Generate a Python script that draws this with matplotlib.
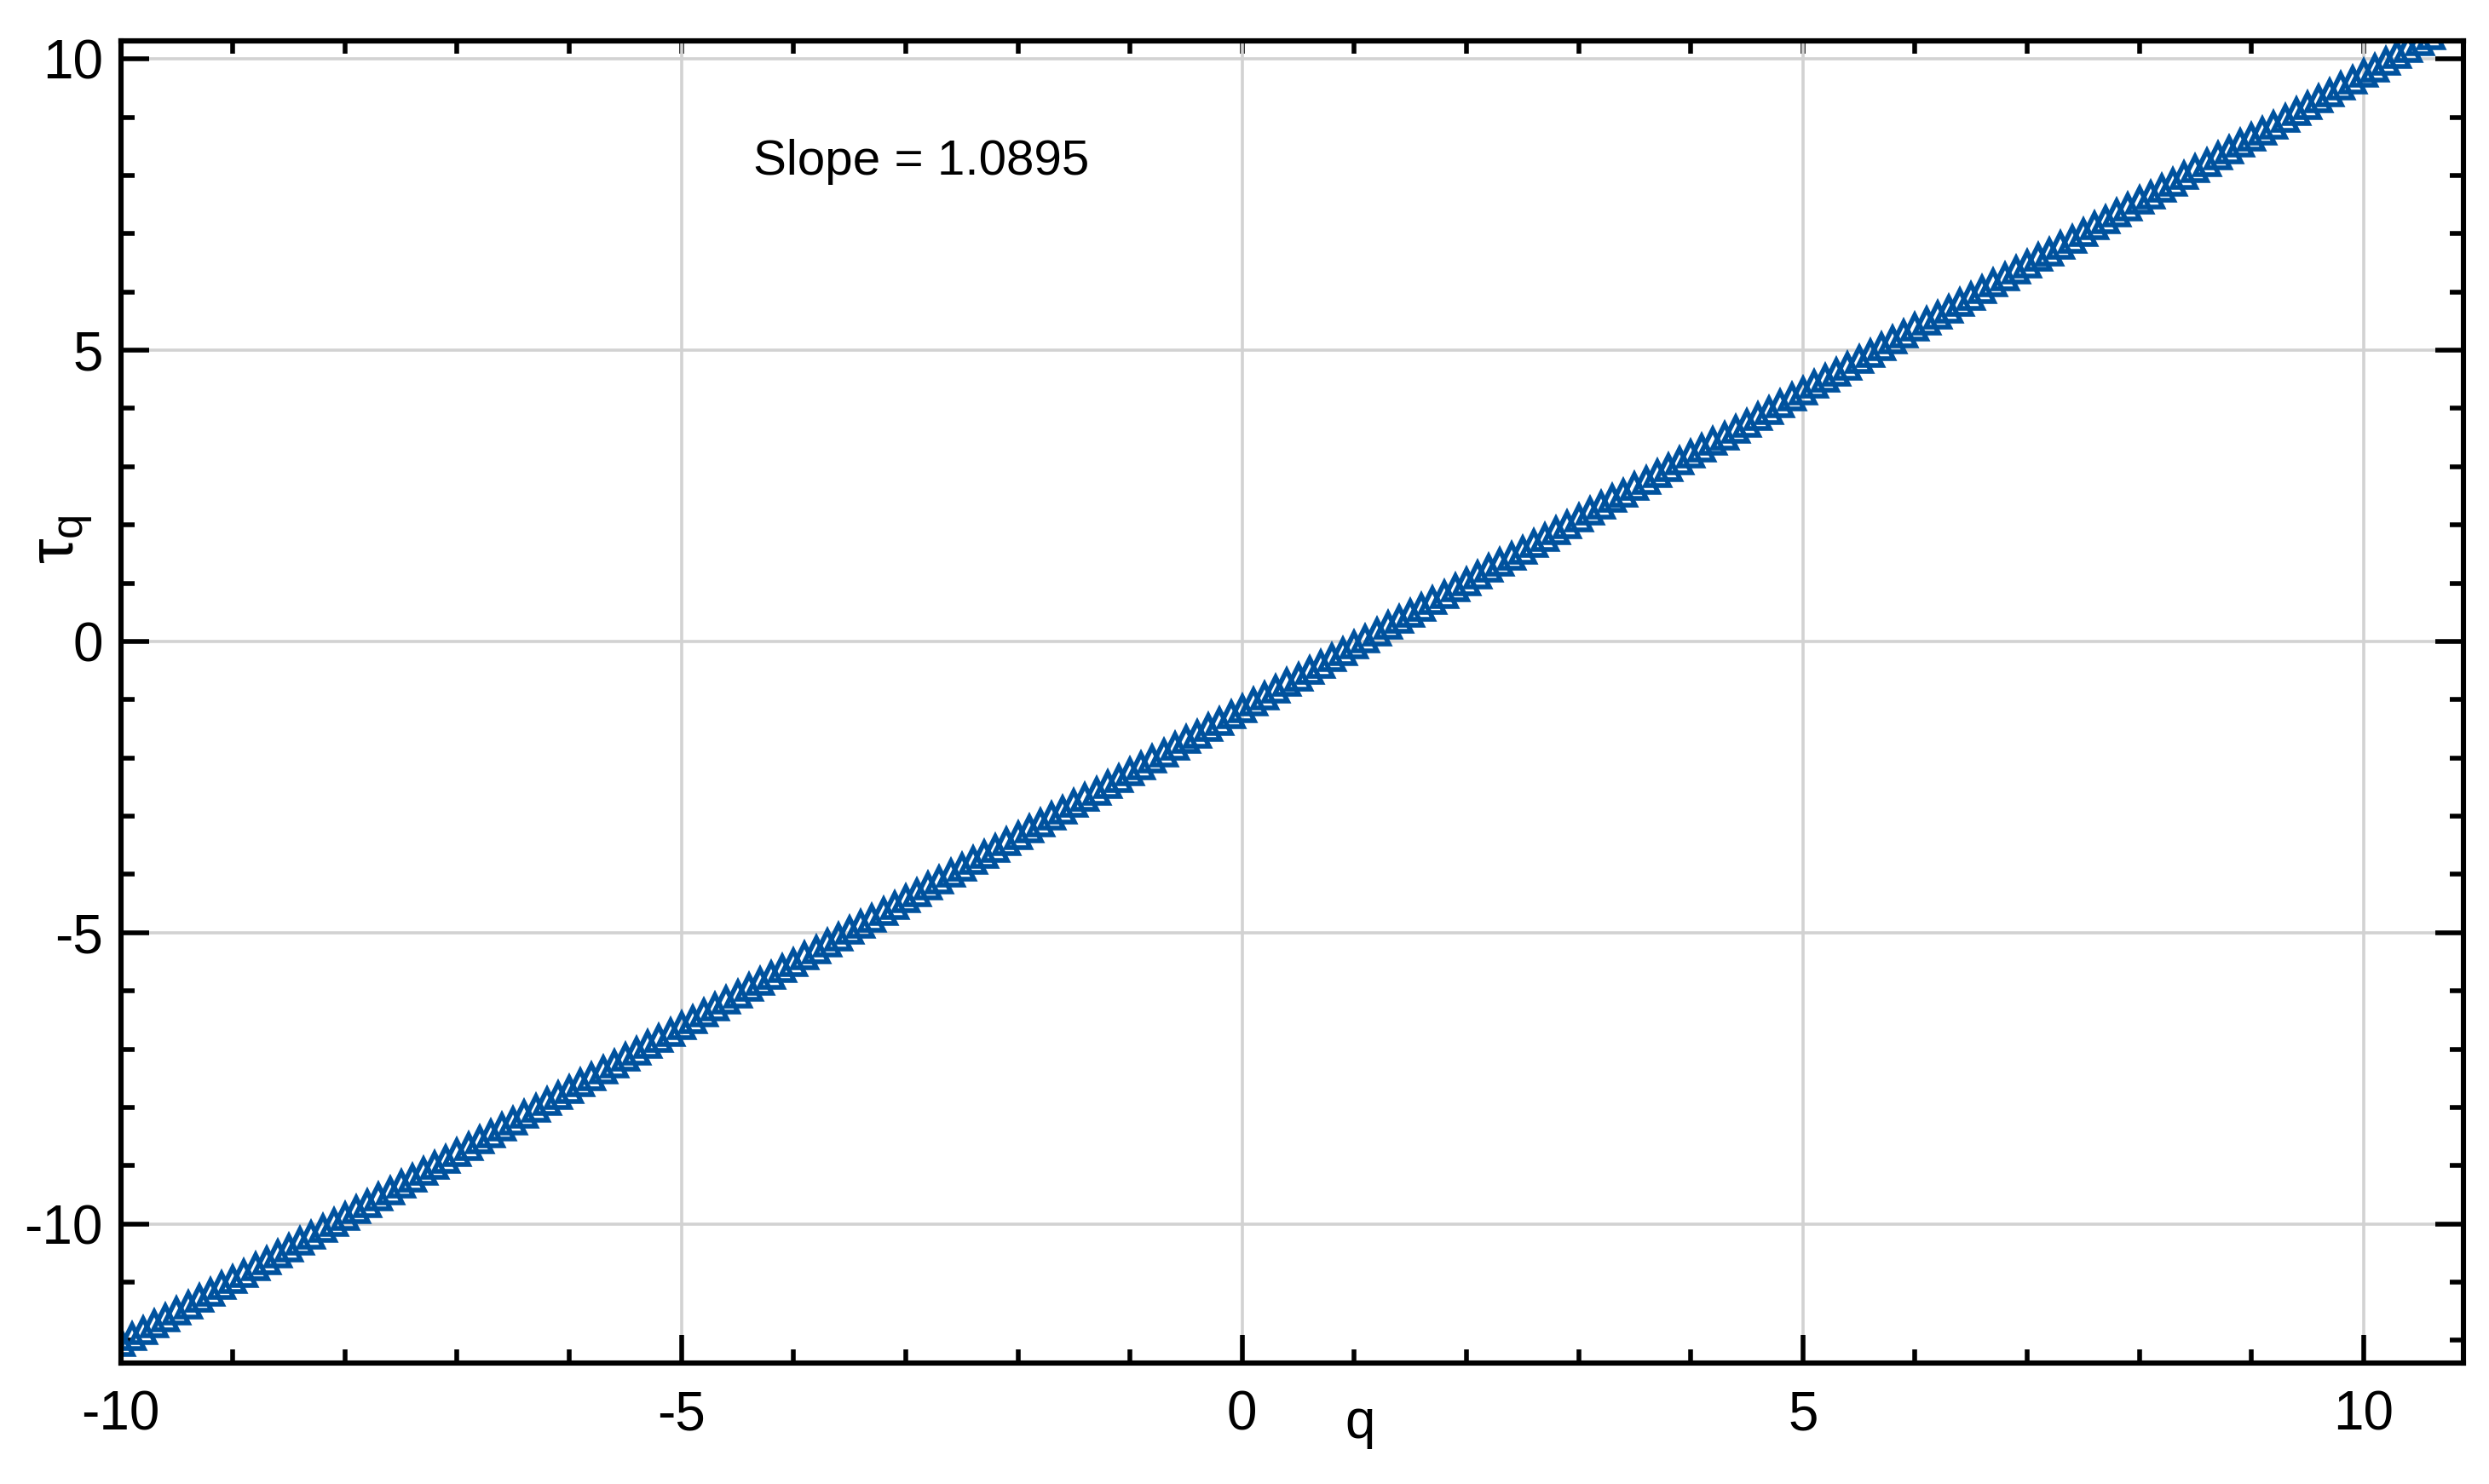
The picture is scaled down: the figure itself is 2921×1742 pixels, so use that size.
import matplotlib
matplotlib.use("Agg")
import matplotlib.pyplot as plt
from matplotlib.ticker import MultipleLocator


# ==========================================================
# DATA  (tau(q), q step 0.1)
# ==========================================================

Q = [
    -10.0, -9.9, -9.8, -9.7, -9.6, -9.5, -9.4, -9.3, -9.2, -9.1,
    -9.0, -8.9, -8.8, -8.7, -8.6, -8.5, -8.4, -8.3, -8.2, -8.1,
    -8.0, -7.9, -7.8, -7.7, -7.6, -7.5, -7.4, -7.3, -7.2, -7.1,
    -7.0, -6.9, -6.8, -6.7, -6.6, -6.5, -6.4, -6.3, -6.2, -6.1,
    -6.0, -5.9, -5.8, -5.7, -5.6, -5.5, -5.4, -5.3, -5.2, -5.1,
    -5.0, -4.9, -4.8, -4.7, -4.6, -4.5, -4.4, -4.3, -4.2, -4.1,
    -4.0, -3.9, -3.8, -3.7, -3.6, -3.5, -3.4, -3.3, -3.2, -3.1,
    -3.0, -2.9, -2.8, -2.7, -2.6, -2.5, -2.4, -2.3, -2.2, -2.1,
    -2.0, -1.9, -1.8, -1.7, -1.6, -1.5, -1.4, -1.3, -1.2, -1.1,
    -1.0, -0.9, -0.8, -0.7, -0.6, -0.5, -0.4, -0.3, -0.2, -0.1,
    0.0, 0.1, 0.2, 0.3, 0.4, 0.5, 0.6, 0.7, 0.8, 0.9,
    1.0, 1.1, 1.2, 1.3, 1.4, 1.5, 1.6, 1.7, 1.8, 1.9,
    2.0, 2.1, 2.2, 2.3, 2.4, 2.5, 2.6, 2.7, 2.8, 2.9,
    3.0, 3.1, 3.2, 3.3, 3.4, 3.5, 3.6, 3.7, 3.8, 3.9,
    4.0, 4.1, 4.2, 4.3, 4.4, 4.5, 4.6, 4.7, 4.8, 4.9,
    5.0, 5.1, 5.2, 5.3, 5.4, 5.5, 5.6, 5.7, 5.8, 5.9,
    6.0, 6.1, 6.2, 6.3, 6.4, 6.5, 6.6, 6.7, 6.8, 6.9,
    7.0, 7.1, 7.2, 7.3, 7.4, 7.5, 7.6, 7.7, 7.8, 7.9,
    8.0, 8.1, 8.2, 8.3, 8.4, 8.5, 8.6, 8.7, 8.8, 8.9,
    9.0, 9.1, 9.2, 9.3, 9.4, 9.5, 9.6, 9.7, 9.8, 9.9,
    10.0, 10.1, 10.2, 10.3, 10.4, 10.5, 10.6, 10.7, 10.8,
]

TAU = [
    -12.04, -11.94, -11.83, -11.72, -11.61, -11.50, -11.39, -11.28, -11.17, -11.06,
    -10.96, -10.85, -10.74, -10.63, -10.52, -10.41, -10.30, -10.19, -10.08, -9.97,
    -9.87, -9.76, -9.65, -9.54, -9.43, -9.32, -9.21, -9.10, -8.99, -8.89,
    -8.78, -8.67, -8.56, -8.45, -8.34, -8.23, -8.12, -8.01, -7.90, -7.80,
    -7.69, -7.58, -7.47, -7.36, -7.25, -7.14, -7.03, -6.92, -6.82, -6.71,
    -6.60, -6.49, -6.38, -6.27, -6.16, -6.05, -5.94, -5.83, -5.73, -5.62,
    -5.51, -5.40, -5.29, -5.18, -5.07, -4.96, -4.85, -4.75, -4.64, -4.53,
    -4.42, -4.31, -4.20, -4.09, -3.98, -3.87, -3.76, -3.66, -3.55, -3.44,
    -3.33, -3.22, -3.11, -3.00, -2.89, -2.78, -2.68, -2.57, -2.46, -2.35,
    -2.24, -2.13, -2.02, -1.91, -1.80, -1.69, -1.59, -1.48, -1.37, -1.26,
    -1.15, -1.04, -0.93, -0.82, -0.71, -0.61, -0.50, -0.39, -0.28, -0.17,
    -0.06, 0.05, 0.16, 0.27, 0.38, 0.48, 0.59, 0.70, 0.81, 0.92,
    1.03, 1.14, 1.25, 1.36, 1.46, 1.57, 1.68, 1.79, 1.90, 2.01,
    2.12, 2.23, 2.34, 2.45, 2.55, 2.66, 2.77, 2.88, 2.99, 3.10,
    3.21, 3.32, 3.43, 3.53, 3.64, 3.75, 3.86, 3.97, 4.08, 4.19,
    4.30, 4.41, 4.52, 4.62, 4.73, 4.84, 4.95, 5.06, 5.17, 5.28,
    5.39, 5.50, 5.60, 5.71, 5.82, 5.93, 6.04, 6.15, 6.26, 6.37,
    6.48, 6.59, 6.69, 6.80, 6.91, 7.02, 7.13, 7.24, 7.35, 7.46,
    7.57, 7.67, 7.78, 7.89, 8.00, 8.11, 8.22, 8.33, 8.44, 8.55,
    8.66, 8.76, 8.87, 8.98, 9.09, 9.20, 9.31, 9.42, 9.53, 9.64,
    9.75, 9.85, 9.96, 10.07, 10.18, 10.29, 10.40, 10.51, 10.62,
]

SLOPE_TEXT = "Slope = 1.0895"
X_TICKS = [-10, -5, 0, 5, 10]
Y_TICKS = [-10, -5, 0, 5, 10]


# ==========================================================
# STYLE
# ==========================================================

plt.rcParams["font.family"] = ["Liberation Sans", "DejaVu Sans"]
plt.rcParams["axes.unicode_minus"] = False
plt.rcParams["mathtext.fontset"] = "custom"
plt.rcParams["mathtext.rm"] = "Liberation Sans"
plt.rcParams["mathtext.it"] = "Liberation Sans"

MARKER_COLOR = "#00529e"
FS = 23


# ==========================================================
# PLOT
# ==========================================================

fig = plt.figure(figsize=(14.605, 8.71), dpi=200)
ax = fig.add_axes([0.0485, 0.0815, 0.9412, 0.8909])

ax.plot(Q, TAU, linestyle="none", marker="^", markersize=10,
        markerfacecolor="none", markeredgecolor=MARKER_COLOR,
        markeredgewidth=2.0)

ax.set_xlim(-10, 10.89)
ax.set_ylim(-12.39, 10.31)

ax.set_xticks(X_TICKS)
ax.set_yticks(Y_TICKS)
ax.xaxis.set_minor_locator(MultipleLocator(1))
ax.yaxis.set_minor_locator(MultipleLocator(1))

ax.grid(True, which="major", color="#d2d2d2", linewidth=1.3)
ax.set_axisbelow(True)

for sp in ax.spines.values():
    sp.set_linewidth(2.2)

ax.tick_params(axis="both", which="both", direction="in", width=2,
               labelsize=FS)
ax.tick_params(axis="both", which="major", length=12)
ax.tick_params(axis="both", which="minor", length=5.8)
ax.tick_params(axis="y", which="both", left=True, right=True, pad=7.5)
ax.tick_params(axis="x", which="both", top=False, pad=11.5)

# top edge: short ticks at every integer, no labels
top = ax.secondary_xaxis("top")
top.set_xticks(range(-10, 11))
top.tick_params(direction="in", length=5.5, width=2, labeltop=False)
top.spines["top"].set_linewidth(2.2)

ax.text(0.27, 0.9085, SLOPE_TEXT, transform=ax.transAxes,
        ha="left", va="center", fontsize=21)

ax.text(0.529, -0.0567, "q", transform=ax.transAxes,
        ha="center", va="baseline", fontsize=FS)
ax.text(-0.0235, 0.623, r"$\tau_\mathrm{q}$", transform=ax.transAxes,
        ha="center", va="center", rotation=90, fontsize=27)

fig.savefig("out.png", dpi=200)
plt.close(fig)
